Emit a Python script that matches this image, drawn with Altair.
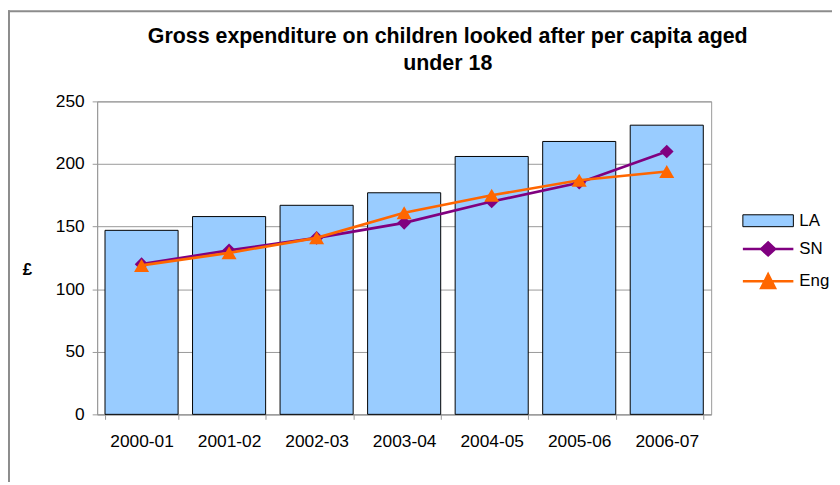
import altair as alt
import pandas as pd

years = ["2000-01", "2001-02", "2002-03", "2003-04", "2004-05", "2005-06", "2006-07"]
la = [147, 158, 167, 177, 206, 218, 231]
sn = [120, 131, 141, 153, 170, 185, 210]
eng = [119, 129, 141, 161, 175, 187, 194]

series_names = ["LA", "SN", "Eng"]
series_colors = ["#99CCFF", "#800080", "#FF6600"]

df = pd.DataFrame({"year": years, "LA": la, "SN": sn, "Eng": eng})
legend_df = pd.DataFrame({"series": series_names})

FONT = "Liberation Sans"
GRID = "#999999"

legend_paths = [
    "M-2.55,-0.6H2.55V0.6H-2.55Z",
    "M-2.55,0H2.55M-0.7,0L0,-0.65L0.7,0L0,0.65Z",
    "M-2.55,0H2.55M-0.7,0.7L0,-0.7L0.7,0.7Z",
]

x_enc = alt.X(
    "year:N",
    sort=years,
    scale=alt.Scale(paddingInner=0.165, paddingOuter=0.09),
    axis=alt.Axis(
        title=None, labelAngle=0, tickBand="extent", tickSize=5, tickColor=GRID,
        domainColor=GRID, labelFont=FONT, labelFontSize=17.5, labelColor="black",
        labelPadding=13, grid=False,
    ),
)
y_scale = alt.Scale(domain=[0, 250], nice=False)
y_axis = alt.Axis(
    values=[0, 50, 100, 150, 200, 250], grid=True, gridColor=GRID, gridWidth=1,
    domainColor=GRID, tickColor=GRID, tickSize=5, labelFont=FONT, labelFontSize=17.5,
    labelColor="black", labelPadding=8, title="£", titleAngle=0, titleFont=FONT,
    titleFontSize=17, titleFontWeight="bold", titleColor="black", titleX=-71,
    titleY=170, titleAlign="center", titleBaseline="middle",
)

base = alt.Chart(df)

bars = base.mark_bar(fill="#99CCFF", stroke="black", strokeWidth=1).encode(
    x=x_enc, y=alt.Y("LA:Q", scale=y_scale, axis=y_axis)
)

def line_layer(col, color):
    return base.mark_line(color=color, strokeWidth=2.7).encode(
        x=alt.X("year:N", sort=years), y=alt.Y(f"{col}:Q")
    )

def point_layer(col, color, shape, size):
    return base.mark_point(filled=True, shape=shape, size=size, color=color, opacity=1).encode(
        x=alt.X("year:N", sort=years), y=alt.Y(f"{col}:Q")
    )

legend_props = dict(
    orient="none", legendX=669, legendY=112, title=None, symbolSize=400,
    labelFont=FONT, labelFontSize=17, labelColor="black",
    labelOffset=23, rowPadding=8.5, padding=0, symbolOffset=0,
    symbolStrokeColor={"expr": "datum.value === 'LA' ? 'black' : scale('color', datum.value)"},
    symbolStrokeWidth={"expr": "datum.value === 'LA' ? 1 : 2.5"},
)

legend_layer = alt.Chart(legend_df).mark_point(filled=True, opacity=1).encode(
    color=alt.Color("series:N", scale=alt.Scale(domain=series_names, range=series_colors),
                    legend=alt.Legend(**legend_props)),
    shape=alt.Shape("series:N", scale=alt.Scale(domain=series_names, range=legend_paths),
                    legend=alt.Legend(**legend_props)),
).transform_filter("false")

border_df = pd.DataFrame({"k": [0]})
border_left = alt.Chart(border_df).mark_rule(color="#8C8C8C", strokeWidth=2).encode(
    x=alt.value(-89), y=alt.value(-92), y2=alt.value(420)
)
border_top = alt.Chart(border_df).mark_rule(color="#8C8C8C", strokeWidth=2).encode(
    x=alt.value(-90), x2=alt.value(760), y=alt.value(-91)
)

chart = alt.layer(
    bars,
    line_layer("SN", "#800080"), point_layer("SN", "#800080", "diamond", 190),
    line_layer("Eng", "#FF6600"), point_layer("Eng", "#FF6600", "triangle-up", 230),
    legend_layer, border_left, border_top,
).properties(
    width=620, height=316,
    autosize="none",
    padding={"left": 90, "top": 92, "right": 122, "bottom": 66},
    title=alt.TitleParams(
        text=["Gross expenditure on children looked after per capita aged", "under 18"],
        font=FONT, fontSize=21.6, fontWeight="bold", color="black", lineHeight=27.5,
        anchor="middle", frame="group", dx=44, dy=66, baseline="top", offset=0,
        limit=800,
    ),
).configure_view(stroke=GRID, strokeWidth=1)

chart.save("out.html", embed_options={"renderer": "svg", "actions": False})
